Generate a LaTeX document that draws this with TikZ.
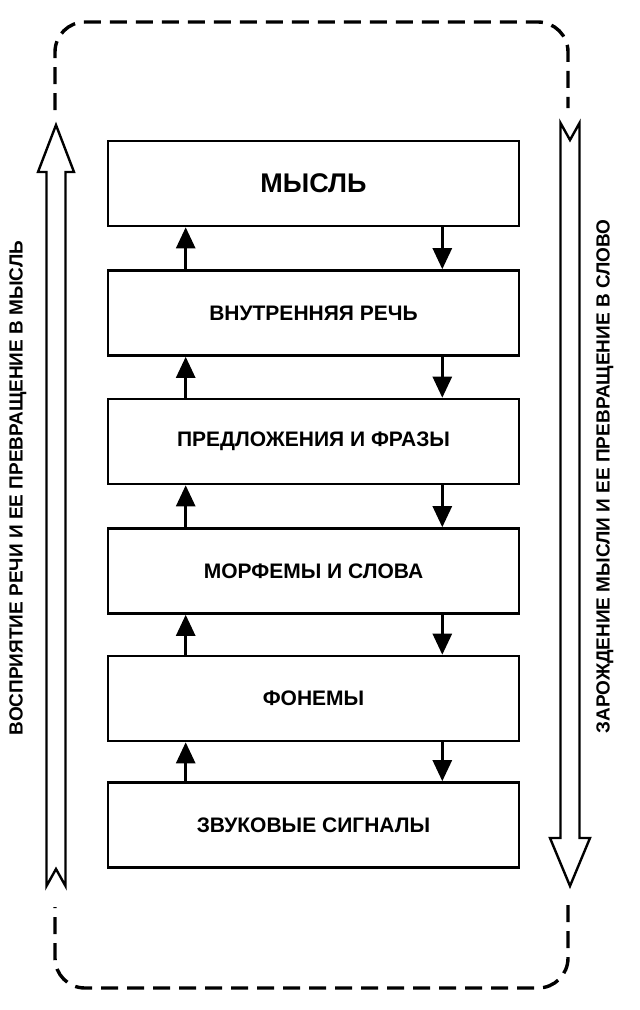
\documentclass[tikz,border=0pt]{standalone}
\usepackage{fontspec}
\setmainfont{Liberation Sans}
\usetikzlibrary{arrows.meta}
\begin{document}
\begin{tikzpicture}[x=1pt,y=-1pt,
  stagebox/.style={draw,line width=2.6pt,minimum width=411pt,minimum height=85pt,inner sep=0pt,font=\bfseries\fontsize{21}{23}\selectfont},
  flowarrow/.style={line width=2.6pt,-{Triangle[width=19pt,length=21pt]}},
  bigarrow/.style={draw,line width=2.4pt,line join=miter},
  frame/.style={line width=3.4pt,dash pattern=on 17pt off 9pt,rounded corners=30pt},
  sidelabel/.style={rotate=90,font=\bfseries\fontsize{19}{21}\selectfont,inner sep=0pt}]
\useasboundingbox (0,0) rectangle (640,1010);
% stages
\node[stagebox,font=\bfseries\fontsize{27}{29}\selectfont] (b1) at (313.5,183.5) {МЫСЛЬ};
\node[stagebox] (b2) at (313.5,313) {ВНУТРЕННЯЯ РЕЧЬ};
\node[stagebox] (b3) at (313.5,441.5) {ПРЕДЛОЖЕНИЯ И ФРАЗЫ};
\node[stagebox] (b4) at (313.5,571) {МОРФЕМЫ И СЛОВА};
\node[stagebox] (b5) at (313.5,698.5) {ФОНЕМЫ};
\node[stagebox] (b6) at (313.5,825) {ЗВУКОВЫЕ СИГНАЛЫ};
% connectors
\foreach \lo/\hi in {b2/b1,b3/b2,b4/b3,b5/b4,b6/b5}{
  \draw[flowarrow] ([xshift=79pt]\lo.north west) -- ([xshift=79pt]\hi.south west);
  \draw[flowarrow] ([xshift=-78pt]\hi.south east) -- ([xshift=-78pt]\lo.north east);
}
% dashed frame
\coordinate (fl1) at (55,110);
\coordinate (fr1) at (568,108);
\coordinate (fr2) at (568,905);
\coordinate (fl2) at (55,907);
\draw[frame] (fl1) -- (55,22) -- (568,22) -- (fr1);
\draw[frame] (fr2) -- (568,988) -- (55,988) -- (fl2);
% big hollow arrows
\draw[bigarrow] (56,125) -- (74,172) -- (65.5,172) -- (65.5,886) -- (56,869) -- (46.5,886) -- (46.5,172) -- (38,172) -- cycle;
\draw[bigarrow] (570,886) -- (590,838) -- (579.5,838) -- (579.5,123) -- (570,140) -- (560.5,123) -- (560.5,838) -- (550,838) -- cycle;
% side labels
\node[sidelabel] (ll) at (18,488) {ВОСПРИЯТИЕ РЕЧИ И ЕЕ ПРЕВРАЩЕНИЕ В МЫСЛЬ};
\node[sidelabel] (rl) at (605,476.5) {ЗАРОЖДЕНИЕ МЫСЛИ И ЕЕ ПРЕВРАЩЕНИЕ В СЛОВО};
\end{tikzpicture}
\end{document}
